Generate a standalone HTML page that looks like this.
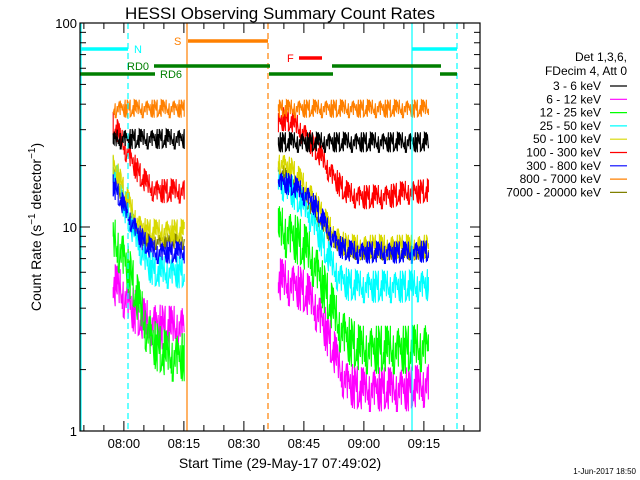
<!DOCTYPE html>
<html><head><meta charset="utf-8"><style>
html,body{margin:0;padding:0;background:#fff;}
svg{display:block;font-family:"Liberation Sans",sans-serif;}
</style></head><body>
<svg id="chart" width="640" height="480" xmlns="http://www.w3.org/2000/svg">
<rect width="640" height="480" fill="#fff"/>
<text x="280" y="19" font-size="17" text-anchor="middle">HESSI Observing Summary Count Rates</text>
<g id="series"></g>
<g id="markers"></g>
<g id="axes"></g>
<text transform="translate(41,227) rotate(-90)" font-size="14" text-anchor="middle">Count Rate (s<tspan dy="-6" font-size="10">−1</tspan><tspan dy="6"> detector</tspan><tspan dy="-6" font-size="10">−1</tspan><tspan dy="6">)</tspan></text>
<text x="280" y="468" font-size="14" text-anchor="middle">Start Time (29-May-17 07:49:02)</text>
<text x="636" y="474" font-size="8" text-anchor="end">1-Jun-2017 18:50</text>
<g id="legend">
<text x="627" y="61" font-size="12" text-anchor="end">Det 1,3,6,</text>
<text x="627" y="75" font-size="12" text-anchor="end">FDecim 4, Att 0</text>
</g>
</svg>
<script>
// time in minutes after 07:49:02
const seg1T = [8.3, 9.5, 11, 13, 15, 17, 19, 21, 23, 26.2];
const seg2T = [49.6, 51, 53, 55, 57, 59, 61, 63, 65, 67, 70, 74, 78, 82, 87.2];
const bandNames = ["3 - 6 keV","6 - 12 keV","12 - 25 keV","25 - 50 keV","50 - 100 keV","100 - 300 keV","300 - 800 keV","800 - 7000 keV","7000 - 20000 keV"];
const bandColors = ["#000000","#ff00ff","#00ff00","#00ffff","#d8d800","#ff0000","#0000ff","#ff8000","#808000"];
const s1_black   = [26, 27, 27, 27, 27, 27, 27, 27, 27, 27];
const s1_magenta = [5.2, 5, 4.6, 4, 3.6, 3.4, 3.3, 3.2, 3.2, 3.2];
const s1_green   = [8.5, 8, 7, 5.5, 4, 3, 2.6, 2.4, 2.3, 2.3];
const s1_cyan    = [20, 17, 13, 10, 8, 6.5, 6, 6, 6, 6];
const s1_yellow  = [20, 18, 15, 12, 10, 9.5, 9.5, 9.5, 9.5, 9.5];
const s1_red     = [32, 29, 25, 21, 18, 16, 15, 15, 15, 15];
const s1_blue    = [16, 14.5, 12.5, 10.5, 9, 8, 7.5, 7.5, 7.5, 7.5];
const s1_orange  = [38, 38, 38, 38, 38, 38, 38, 38, 38, 38];
const s1_olive   = [18, 16, 13, 11, 9, 8.5, 8.5, 8.5, 8.5, 8.5];
const s2_black   = [26, 26, 26, 26, 26, 26, 26, 26, 26, 26, 26, 26, 26, 26, 26];
const s2_magenta = [5.5, 5.4, 5.2, 5, 4.6, 4, 3.3, 2.6, 2, 1.7, 1.6, 1.6, 1.6, 1.6, 1.7];
const s2_green   = [9.7, 9.4, 9, 8.4, 7.5, 6.3, 5, 4, 3.2, 2.8, 2.5, 2.5, 2.5, 2.5, 2.6];
const s2_cyan    = [17, 16, 15, 13.5, 12, 10, 8, 6.5, 5.6, 5.2, 5.1, 5.1, 5.1, 5.1, 5.2];
const s2_yellow  = [21, 20, 19, 17, 15, 13, 11, 9.5, 8.5, 8, 8, 8, 8, 8, 8];
const s2_red     = [32, 34, 33, 30, 27, 24, 21, 18, 16, 14.5, 14, 14, 14.2, 14.8, 15];
const s2_blue    = [16.5, 16.5, 16, 15, 14, 12.5, 10.5, 9, 8, 7.6, 7.5, 7.5, 7.5, 7.5, 7.6];
const s2_orange  = [38, 38, 38, 38, 38, 38, 38, 38, 38, 38, 38, 38, 38, 38, 38];
const s2_olive   = [19, 18, 17, 15, 13, 11.5, 10, 8.8, 8, 7.6, 7.5, 7.5, 7.5, 7.5, 7.5];
const xTickLabels = ["08:00","08:15","08:30","08:45","09:00","09:15"];
const xTickMinutes = [10.97, 25.97, 40.97, 55.97, 70.97, 85.97];
const yTickLabels = ["1","10","100"];
const yTickValues = [1, 10, 100];

const L=80,R=480,T=23,B=431;
const X = t => L + t*4;
const Y = v => B - 204*Math.log10(Math.max(1,Math.min(100,v)));
const NS="http://www.w3.org/2000/svg";
function mk(tag, attrs, parent){const e=document.createElementNS(NS,tag);for(const k in attrs)e.setAttribute(k,attrs[k]);parent.appendChild(e);return e;}
const sg=document.getElementById('series'), mg=document.getElementById('markers'), ag=document.getElementById('axes'), lg=document.getElementById('legend');

function interp(ts, vs, t){
  if(t<=ts[0])return vs[0];
  for(let i=1;i<ts.length;i++){if(t<=ts[i]){const f=(t-ts[i-1])/(ts[i]-ts[i-1]);return Math.pow(10,Math.log10(vs[i-1])*(1-f)+Math.log10(vs[i])*f);}}
  return vs[vs.length-1];
}
// fixed visual jitter pattern (styling only)
const pat=[1,-0.7,0.2,-1,0.8,0.1,-0.4,0.9,-0.9,0.3,-0.2,0.6,-1,0.5,0.0,-0.6,1,-0.3,0.4,-0.8,0.7,-0.1,0.2,-0.5,0.9,-1,0.3];
function drawSeries(ts, vs, color, name, k, off){
  let d="";
  const x0=X(ts[0]), x1=X(ts[ts.length-1]);
  let i=off;
  for(let x=x0;x<=x1;x+=1,i++){
    const v=interp(ts,vs,(x-L)/4);
    const a=pat[i%pat.length], b=pat[(i*7+3)%pat.length];
    const y1=Math.min(B,Y(v)+a*k), y2=Math.min(B,Y(v)+b*k);
    d+=(d?"L":"M")+x.toFixed(1)+","+y1.toFixed(1)+"L"+x.toFixed(1)+","+y2.toFixed(1);
  }
  const p=mk('path',{d:d,fill:'none',stroke:color,'stroke-width':1.1},sg);
  
  
}
const order=[["olive",8],["magenta",1],["green",2],["cyan",3],["yellow",4],["blue",6],["red",5],["black",0],["orange",7]];
const s1={black:s1_black,magenta:s1_magenta,green:s1_green,cyan:s1_cyan,yellow:s1_yellow,red:s1_red,blue:s1_blue,orange:s1_orange,olive:s1_olive};
const s2={black:s2_black,magenta:s2_magenta,green:s2_green,cyan:s2_cyan,yellow:s2_yellow,red:s2_red,blue:s2_blue,orange:s2_orange,olive:s2_olive};
const spread={black:10,magenta:22,green:24,cyan:16,yellow:12,red:12,blue:11,orange:9,olive:8};
order.forEach(([n,ci],j)=>{
  drawSeries(seg1T,s1[n],bandColors[ci],'series-'+n+'-seg1',spread[n],j*5);
  drawSeries(seg2T,s2[n],bandColors[ci],'series-'+n+'-seg2',spread[n],j*3+2);
});

// vertical markers
function vline(x,color,dash,name){const l=mk('line',{x1:x,x2:x,y1:T,y2:B,stroke:color,'stroke-width':1.2},mg);if(dash)l.setAttribute('stroke-dasharray','6,4');}
vline(81,'#00ffff',false,'night-start-line');
vline(128,'#00ffff',true,'night-end-line');
vline(412,'#00ffff',false,'night2-start-line');
vline(457,'#00ffff',true,'night2-end-line');
vline(187,'#ff8000',false,'saa-start-line');
vline(268,'#ff8000',true,'saa-end-line');
function hbar(x1,x2,y,color,name){const l=mk('line',{x1:x1,x2:x2,y1:y,y2:y,stroke:color,'stroke-width':3.5},mg);}
function lab(x,y,txt,color,name,anchor){const t=mk('text',{x:x,y:y,fill:color,'font-size':11,'text-anchor':anchor||'start'},mg);t.textContent=txt;}
hbar(80,128,49,'#00ffff','night-bar-1');hbar(412,457,49,'#00ffff','night-bar-2');lab(134,53,'N','#00ffff','night-label');
hbar(188,268,41,'#ff8000','saa-bar');lab(174,45,'S','#ff8000','saa-label');
hbar(299,322,58,'#ff0000','flare-bar');lab(287,62,'F','#ff0000','flare-label');
hbar(154,270,66,'#007f00','rd0-bar-1');hbar(332,441,66,'#007f00','rd0-bar-2');lab(127,70,'RD0','#007f00','rd0-label');
hbar(80,155,74,'#007f00','rd6-bar-1');hbar(269,333,74,'#007f00','rd6-bar-2');hbar(440,457,74,'#007f00','rd6-bar-3');lab(160,78,'RD6','#007f00','rd6-label');

// axes
const box=mk('rect',{x:L,y:T,width:R-L,height:B-T,fill:'none',stroke:'#000','stroke-width':1.2},ag);

for(let m=0;m<=100;m+=5){const t=m+0.97;const x=X(t);if(x<L||x>R)continue;const major=(m%15===10);const len=major?10:6;
  mk('line',{x1:x,x2:x,y1:B,y2:B-len,stroke:'#000'},ag);mk('line',{x1:x,x2:x,y1:T,y2:T+len,stroke:'#000'},ag);}
xTickLabels.forEach((s,i)=>{const t=mk('text',{x:X(xTickMinutes[i]),y:448,'font-size':13,'text-anchor':'middle'},ag);t.textContent=s;
  });
for(let d=0;d<2;d++)for(let j=2;j<=9;j++){const y=Y(j*Math.pow(10,d));
  mk('line',{x1:L,x2:L+6,y1:y,y2:y,stroke:'#000'},ag);mk('line',{x1:R,x2:R-6,y1:y,y2:y,stroke:'#000'},ag);}
yTickValues.forEach((v,i)=>{const y=Y(v);mk('line',{x1:L,x2:L+10,y1:y,y2:y,stroke:'#000'},ag);mk('line',{x1:R,x2:R-10,y1:y,y2:y,stroke:'#000'},ag);
  const t=mk('text',{x:L-3,y:y+5,'font-size':13,'text-anchor':'end'},ag);t.textContent=yTickLabels[i];
  });

// legend
bandNames.forEach((n,i)=>{const y=86+i*13.3;
  const t=mk('text',{x:601,y:y+4,'font-size':12,'text-anchor':'end'},lg);t.textContent=n;
  
  const l=mk('line',{x1:610,x2:627,y1:y,y2:y,stroke:bandColors[i],'stroke-width':1.2},lg);
  });
</script>
</body></html>
